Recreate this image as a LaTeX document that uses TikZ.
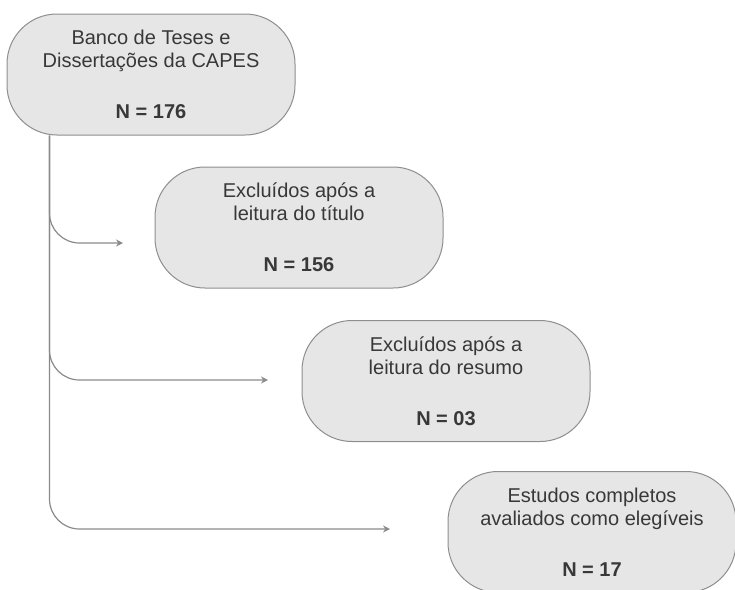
\documentclass[tikz,border=0pt]{standalone}
\usepackage{fontspec}
\setmainfont{Liberation Sans}
\usetikzlibrary{arrows.meta}
\definecolor{boxfill}{HTML}{E6E6E6}
\definecolor{boxline}{HTML}{8E8E8E}
\definecolor{arrowline}{HTML}{8A8A8A}
\definecolor{txt}{HTML}{383838}
\begin{document}
\begin{tikzpicture}[x=1pt,y=-1pt,
  stagebox/.style={draw=boxline, fill=boxfill, line width=1pt, rounded corners=50pt,
    minimum width=288pt, minimum height=121pt, align=center, text=txt,
    font=\fontsize{20}{23}\selectfont, inner sep=0pt},
  flow/.style={draw=arrowline, line width=1.2pt, rounded corners=30pt,
    -{Stealth[length=7pt,width=7pt]}}]
\useasboundingbox (0,0) rectangle (735,589);
\clip (0,0) rectangle (735,589);
\node[stagebox] (b1) at (151,74.5) {Banco de Teses e\\Dissertações da CAPES\\[28pt]\textbf{N = 176}};
\node[stagebox] (b2) at (299,227.5) {Excluídos após a\\leitura do título\\[28pt]\textbf{N = 156}};
\node[stagebox] (b3) at (446,381) {Excluídos após a\\leitura do resumo\\[28pt]\textbf{N = 03}};
\node[stagebox] (b4) at (592,532) {Estudos completos\\avaliados como elegíveis\\[28pt]\textbf{N = 17}};
\coordinate (s) at ([xshift=43pt]b1.south west);
\coordinate (e1) at (123,243);
\coordinate (e2) at (268,380);
\coordinate (e3) at (390,529);
\draw[flow] (s) |- (e1);
\draw[flow] (s) |- (e2);
\draw[flow] (s) |- (e3);
\end{tikzpicture}
\end{document}
